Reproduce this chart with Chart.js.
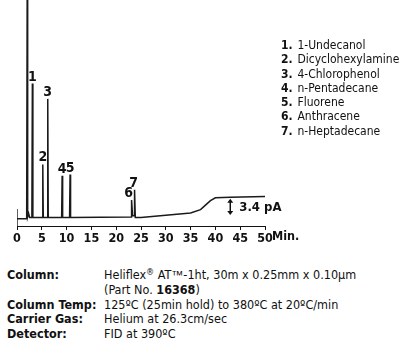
<!DOCTYPE html>
<html><head><meta charset="utf-8">
<script src="https://cdn.jsdelivr.net/npm/chart.js@4.4.0/dist/chart.umd.min.js"></script>
<style>
html,body{margin:0;padding:0;background:#fff;}
#wrap{position:relative;width:405px;height:355px;overflow:hidden;font-family:'DejaVu Sans Condensed','Liberation Sans Narrow',Arial,sans-serif;color:#111;}
#c{position:absolute;left:0;top:0;}
.leg{position:absolute;left:281px;top:38px;font-size:12px;line-height:14.3px;white-space:nowrap;}
.leg b{display:inline-block;width:13px;}
.info{position:absolute;left:7px;top:268px;font-size:12.5px;line-height:14.8px;}
.info .r{position:relative;height:14.8px;white-space:nowrap;}
.info .k{position:absolute;left:0;font-weight:bold;white-space:nowrap;}
.info .v{position:absolute;left:97px;white-space:nowrap;}
sup{font-size:9px;vertical-align:4px;line-height:0;}
.tm{font-family:'Liberation Sans',Arial,sans-serif;font-size:12px;}
</style></head>
<body><div id="wrap">
<canvas id="c" width="405" height="250"></canvas>
<div class="leg">
<div><b>1.</b> 1-Undecanol</div>
<div><b>2.</b> Dicyclohexylamine</div>
<div><b>3.</b> 4-Chlorophenol</div>
<div><b>4.</b> n-Pentadecane</div>
<div><b>5.</b> Fluorene</div>
<div><b>6.</b> Anthracene</div>
<div><b>7.</b> n-Heptadecane</div>
</div>
<div class="info">
<div class="r"><span class="k">Column:</span><span class="v">Heliflex<sup>®</sup> AT<span class="tm">™</span>-1ht, 30m x 0.25mm x 0.10µm</span></div>
<div class="r"><span class="v">(Part No. <b>16368</b>)</span></div>
<div class="r"><span class="k">Column Temp:</span><span class="v">125ºC (25min hold) to 380ºC at 20ºC/min</span></div>
<div class="r"><span class="k">Carrier Gas:</span><span class="v">Helium at 26.3cm/sec</span></div>
<div class="r"><span class="k">Detector:</span><span class="v">FID at 390ºC</span></div>
</div>
</div>
<script>
// Trace (time in min, signal in pA above axis)
const traceTime   = [0, 1.95, 2.05, 2.15, 2.35, 2.55, 3.0, 3.1, 3.2, 5.1, 5.2, 5.3, 6.1, 6.2, 6.3, 9.0, 9.1, 9.2, 10.6, 10.7, 10.8, 23.0, 23.1, 23.3, 23.6, 23.7, 23.85, 25, 30, 35, 37, 38, 39, 40, 43, 50];
const traceSignal = [1.3, 1.3, 40, 1.6, 2.2, 1.5, 1.5, 25.2, 1.5, 1.5, 10.9, 1.5, 1.5, 22.5, 1.5, 1.5, 8.9, 1.5, 1.5, 9.1, 1.5, 1.6, 4.6, 1.8, 1.8, 6.4, 1.5, 1.5, 1.9, 2.3, 2.9, 3.7, 4.5, 5.0, 5.1, 5.2];
const stubTime = [0, 0];
const stubSignal = [0, 3.0];
const peakLabels = ['1','2','3','4','5','6','7'];
const peakTimes  = [3.1, 5.2, 6.2, 9.1, 10.7, 23.1, 23.7];
const peakTops   = [25.2, 10.9, 22.5, 8.9, 9.1, 4.6, 6.4];
const compounds = ['1-Undecanol','Dicyclohexylamine','4-Chlorophenol','n-Pentadecane','Fluorene','Anthracene','n-Heptadecane'];
const xTicks = [0,5,10,15,20,25,30,35,40,45,50];
const scaleBarFrom = 1.6, scaleBarTo = 5.0, scaleBarTime = 43, scaleBarText = '3.4 pA';

const FONT = "'DejaVu Sans Condensed','Liberation Sans Narrow',Arial,sans-serif";
const labelDx = [0,0,0,0,0,-3,-1];

const annot = {
  id:'annot',
  afterDatasetsDraw(chart){
    const {ctx, scales:{x,y}} = chart;
    ctx.save();
    ctx.fillStyle='#111';
    ctx.font = 'bold 14px '+FONT;
    ctx.textAlign='center'; ctx.textBaseline='alphabetic';
    peakLabels.forEach((l,i)=>{
      ctx.fillText(l, x.getPixelForValue(peakTimes[i])+labelDx[i], y.getPixelForValue(peakTops[i])-3);
    });
    // scale bar
    const bx = x.getPixelForValue(scaleBarTime);
    const y1 = y.getPixelForValue(scaleBarTo)+1, y2 = y.getPixelForValue(scaleBarFrom)-2;
    ctx.strokeStyle='#111'; ctx.lineWidth=1.5;
    ctx.beginPath(); ctx.moveTo(bx,y1+2); ctx.lineTo(bx,y2-2); ctx.stroke();
    ctx.beginPath(); ctx.moveTo(bx-3,y1+4); ctx.lineTo(bx,y1); ctx.lineTo(bx+3,y1+4); ctx.closePath(); ctx.fill();
    ctx.beginPath(); ctx.moveTo(bx-3,y2-4); ctx.lineTo(bx,y2); ctx.lineTo(bx+3,y2-4); ctx.closePath(); ctx.fill();
    ctx.font='bold 13px '+FONT; ctx.textAlign='left'; ctx.textBaseline='middle';
    ctx.fillText(scaleBarText, bx+9, (y1+y2)/2+1);
    // axis unit
    ctx.font='bold 12.5px '+FONT;
    ctx.fillText('Min.', x.right+7, x.bottom - 10);
    ctx.restore();
  }
};

new Chart(document.getElementById('c'), {
  type:'line',
  data:{datasets:[
    {data: traceTime.map((t,i)=>({x:t,y:traceSignal[i]})), borderColor:'#1a1a1a', borderWidth:1.5, pointRadius:0, tension:0, fill:false},
    {data: stubTime.map((t,i)=>({x:t,y:stubSignal[i]})), borderColor:'#1a1a1a', borderWidth:1.4, pointRadius:0, fill:false}
  ]},
  options:{
    responsive:false, animation:false,
    layout:{padding:{left:17,right:140,top:0,bottom:3}},
    plugins:{legend:{display:false},tooltip:{enabled:false}},
    scales:{
      x:{type:'linear',min:0,max:50,
        afterBuildTicks(s){ s.ticks = xTicks.map(v=>({value:v})); },
        ticks:{color:'#111',font:{family:FONT,size:12.5,weight:'bold'},padding:1,maxRotation:0,autoSkip:false},
        grid:{display:true,drawOnChartArea:false,tickLength:4,color:'#111'},
        border:{display:true,color:'#111',width:1}},
      y:{display:false,min:0,max:40}
    }
  },
  plugins:[annot]
});
</script>
</body></html>
